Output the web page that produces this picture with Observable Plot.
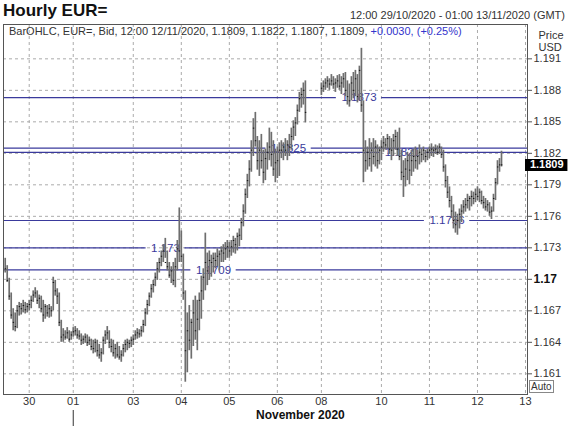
<!DOCTYPE html>
<html>
<head>
<meta charset="utf-8">
<script src="https://cdn.jsdelivr.net/npm/d3@7"></script>
<script src="https://cdn.jsdelivr.net/npm/@observablehq/plot@0.6"></script>
<style>
  body { margin: 0; background: #fff; }
  #wrap { position: relative; width: 568px; height: 426px; font-family: Arial, "Liberation Sans", sans-serif; color: #333; overflow: hidden; }
  #title { position: absolute; left: 3px; top: 1px; font-size: 17px; font-weight: bold; color: #111; }
  #range { position: absolute; right: 3px; top: 9px; font-size: 11px; color: #333; }
  #chart { position: absolute; left: 0; top: 24px; }
  #legend { position: absolute; left: 9px; top: 25px; font-size: 11px; color: #333; white-space: nowrap; }
  #legend .chg { color: #3333cc; }
  #auto { position: absolute; left: 529px; top: 380px; font-size: 10px; line-height: 11px; border: 1px solid #888; padding: 0 1px; color: #333; }
</style>
</head>
<body>
<div id="wrap">
  <div id="title">Hourly EUR=</div>
  <div id="range">12:00 29/10/2020 - 01:00 13/11/2020 (GMT)</div>
  <div id="chart"></div>
  <div id="legend">BarOHLC, EUR=, Bid, 12:00 12/11/2020, 1.1809, 1.1822, 1.1807, 1.1809, <span class="chg">+0.0030, (+0.25%)</span></div>
  <div id="auto">Auto</div>
</div>
<script>
// Hourly bars, index 0 = 12:00 29/10/2020 (trading hours, weekends compressed)
const high = [
  1.1720,1.1713,1.1701,1.1687,1.1672,1.1668,1.1675,1.1678,1.1677,1.1680,1.1678,1.1677,
  1.1680,1.1684,1.1689,1.1692,1.1689,1.1685,1.1684,1.1680,1.1676,1.1675,1.1676,1.1674,1.1702,1.1699,1.1691,1.1687,1.1661,1.1653,1.1651,1.1654,1.1651,1.1650,
  1.1654,1.1655,1.1653,1.1651,1.1648,1.1646,1.1648,1.1647,1.1645,1.1643,1.1642,1.1643,1.1642,1.1638,1.1634,1.1645,1.1651,1.1655,1.1651,1.1643,1.1642,1.1638,1.1640,1.1636,1.1632,1.1638,1.1642,1.1643,1.1642,1.1645,
  1.1647,1.1651,1.1653,1.1652,1.1655,1.1661,1.1672,1.1680,1.1687,1.1695,1.1699,1.1706,1.1716,1.1720,1.1727,1.1733,1.1739,1.1727,1.1716,1.1712,1.1716,1.1720,1.1737,1.1768,
  1.1746,1.1724,1.1689,1.1668,1.1675,1.1662,1.1680,1.1684,1.1680,1.1687,1.1703,1.1710,1.1744,1.1725,1.1727,1.1723,1.1725,1.1725,1.1729,1.1727,1.1731,1.1733,1.1735,1.1737,
  1.1735,1.1737,1.1741,1.1739,1.1744,1.1748,1.1758,1.1771,1.1786,1.1800,1.1813,1.1832,1.1853,1.1859,1.1836,1.1832,1.1838,1.1823,1.1824,1.1830,1.1844,1.1840,1.1832,1.1824,
  1.1826,1.1830,1.1832,1.1830,1.1834,1.1832,1.1838,1.1844,1.1851,1.1854,1.1866,1.1878,1.1882,1.1887,1.1889,null,null,null,null,null,null,null,
  1.1887,1.1889,1.1891,1.1893,1.1891,1.1895,1.1893,1.1891,1.1894,1.1895,1.1893,1.1896,1.1897,1.1889,1.1886,1.1893,1.1897,1.1899,1.1895,1.1903,1.1920,1.1870,1.1832,1.1826,1.1834,1.1830,1.1834,1.1832,1.1828,1.1826,
  1.1832,1.1836,1.1834,1.1838,1.1836,1.1834,1.1838,1.1842,1.1840,1.1844,1.1823,1.1813,1.1815,1.1821,1.1819,1.1823,1.1824,1.1826,1.1823,1.1828,1.1824,1.1826,1.1823,1.1824,
  1.1826,1.1829,1.1826,1.1828,1.1827,1.1829,1.1826,1.1823,1.1809,1.1798,1.1788,1.1779,1.1771,1.1764,1.1762,1.1767,1.1771,1.1775,1.1777,1.1781,1.1779,1.1784,1.1783,1.1786,
  1.1788,1.1786,1.1784,1.1779,1.1777,1.1775,1.1773,1.1769,1.1781,1.1796,1.1813,1.1815,1.1822
];
const low = [
  1.1706,1.1697,1.1680,1.1662,1.1651,1.1650,1.1653,1.1665,1.1666,1.1668,1.1667,1.1668,
  1.1670,1.1672,1.1678,1.1682,1.1676,1.1672,1.1668,1.1659,1.1662,1.1664,1.1663,1.1664,1.1670,1.1684,1.1676,1.1655,1.1640,1.1640,1.1642,1.1643,1.1640,1.1642,
  1.1645,1.1646,1.1643,1.1642,1.1637,1.1638,1.1639,1.1636,1.1637,1.1632,1.1629,1.1630,1.1626,1.1624,1.1621,1.1628,1.1638,1.1642,1.1634,1.1630,1.1626,1.1624,1.1625,1.1623,1.1621,1.1626,1.1630,1.1632,1.1634,1.1635,
  1.1637,1.1642,1.1643,1.1644,1.1645,1.1649,1.1655,1.1666,1.1674,1.1682,1.1687,1.1693,1.1699,1.1706,1.1712,1.1716,1.1720,1.1708,1.1701,1.1696,1.1694,1.1692,1.1708,1.1716,
  1.1716,1.1680,1.1602,1.1611,1.1632,1.1624,1.1636,1.1642,1.1632,1.1651,1.1662,1.1680,1.1689,1.1694,1.1699,1.1702,1.1706,1.1710,1.1712,1.1708,1.1716,1.1716,1.1718,1.1720,
  1.1720,1.1722,1.1725,1.1724,1.1727,1.1731,1.1737,1.1750,1.1762,1.1777,1.1788,1.1802,1.1817,1.1826,1.1804,1.1798,1.1805,1.1791,1.1794,1.1804,1.1813,1.1807,1.1798,1.1792,
  1.1796,1.1798,1.1815,1.1813,1.1817,1.1813,1.1817,1.1823,1.1832,1.1836,1.1847,1.1859,1.1863,1.1866,1.1849,null,null,null,null,null,null,null,
  1.1875,1.1878,1.1880,1.1882,1.1880,1.1884,1.1881,1.1878,1.1882,1.1880,1.1876,1.1882,1.1874,1.1866,1.1864,1.1870,1.1872,1.1874,1.1868,1.1870,1.1859,1.1792,1.1802,1.1804,1.1807,1.1802,1.1809,1.1807,1.1805,1.1809,
  1.1813,1.1821,1.1823,1.1824,1.1819,1.1813,1.1817,1.1823,1.1817,1.1813,1.1794,1.1778,1.1788,1.1794,1.1790,1.1798,1.1802,1.1805,1.1804,1.1809,1.1811,1.1813,1.1811,1.1813,
  1.1815,1.1817,1.1816,1.1819,1.1818,1.1819,1.1815,1.1802,1.1787,1.1777,1.1768,1.1758,1.1748,1.1744,1.1742,1.1748,1.1754,1.1762,1.1764,1.1767,1.1765,1.1769,1.1771,1.1773,
  1.1775,1.1773,1.1771,1.1767,1.1765,1.1764,1.1760,1.1757,1.1764,1.1775,1.1790,1.1802,1.1807
];
const close = [
  1.1710,1.1699,1.1684,1.1666,1.1659,1.1655,1.1670,1.1674,1.1672,1.1675,1.1671,1.1674,
  1.1676,1.1680,1.1685,1.1687,1.1680,1.1682,1.1672,1.1666,1.1674,1.1668,1.1672,1.1670,1.1697,1.1689,1.1684,1.1659,1.1645,1.1647,1.1645,1.1649,1.1643,1.1647,
  1.1650,1.1651,1.1647,1.1646,1.1642,1.1643,1.1645,1.1640,1.1642,1.1636,1.1634,1.1640,1.1632,1.1628,1.1630,1.1642,1.1647,1.1649,1.1640,1.1636,1.1630,1.1634,1.1628,1.1626,1.1628,1.1634,1.1638,1.1640,1.1639,1.1642,
  1.1643,1.1647,1.1649,1.1648,1.1651,1.1657,1.1668,1.1676,1.1684,1.1691,1.1695,1.1702,1.1710,1.1716,1.1722,1.1727,1.1716,1.1712,1.1704,1.1708,1.1699,1.1712,1.1729,1.1727,
  1.1722,1.1687,1.1632,1.1651,1.1642,1.1659,1.1668,1.1651,1.1662,1.1680,1.1689,1.1702,1.1716,1.1708,1.1718,1.1716,1.1720,1.1718,1.1722,1.1724,1.1727,1.1725,1.1729,1.1731,
  1.1727,1.1731,1.1737,1.1733,1.1741,1.1742,1.1754,1.1765,1.1781,1.1794,1.1805,1.1823,1.1844,1.1832,1.1813,1.1823,1.1813,1.1802,1.1815,1.1821,1.1826,1.1819,1.1805,1.1811,
  1.1813,1.1823,1.1823,1.1826,1.1823,1.1828,1.1826,1.1836,1.1845,1.1849,1.1861,1.1872,1.1876,1.1880,1.1859,null,null,null,null,null,null,null,
  1.1882,1.1884,1.1887,1.1889,1.1886,1.1889,1.1886,1.1887,1.1889,1.1884,1.1887,1.1891,1.1880,1.1874,1.1870,1.1887,1.1880,1.1891,1.1874,1.1899,1.1866,1.1823,1.1813,1.1821,1.1815,1.1823,1.1817,1.1826,1.1813,1.1823,
  1.1826,1.1830,1.1828,1.1834,1.1824,1.1823,1.1832,1.1836,1.1824,1.1817,1.1802,1.1798,1.1805,1.1813,1.1804,1.1813,1.1817,1.1813,1.1817,1.1821,1.1819,1.1823,1.1817,1.1821,
  1.1823,1.1824,1.1823,1.1824,1.1821,1.1826,1.1819,1.1807,1.1794,1.1783,1.1775,1.1765,1.1756,1.1752,1.1756,1.1762,1.1765,1.1769,1.1771,1.1775,1.1777,1.1779,1.1777,1.1781,
  1.1779,1.1783,1.1775,1.1773,1.1769,1.1771,1.1764,1.1765,1.1777,1.1792,1.1807,1.1809,1.1809
];

// x axis (bar index of each day start) and labels
const dayIndex = [12, 34, 64, 88, 112, 136, 158, 188, 212, 236, 260];
const dayLabels = ["30", "01", "03", "04", "05", "06", "08", "10", "11", "12", "13"];
const monthStart = 34;
const monthLabel = "November 2020";

// y axis ticks
const yTicks = [1.161, 1.164, 1.167, 1.173, 1.176, 1.179, 1.182, 1.185, 1.188, 1.191];
const yBoldTick = 1.17;

// horizontal level lines and where their labels sit (bar index)
const levelValues = [1.1873, 1.1825, 1.1821, 1.1756, 1.173, 1.1709];
const levelLabels = ["1.1873", "1.1825", "1.1821", "1.1756", "1.173", "1.1709"];
const levelLabelAt = [176.8, 141.6, 198.5, 220.8, 80.1, 104.1];

const lastPrice = 1.1809;

const xDomain = [-0.85, 261];
const yDomain = [1.15903, 1.19427];

const bars = high.map((h, i) => ({i, high: h, low: low[i], close: close[i]})).filter(d => d.high != null);

const levels = levelValues.map((v, k) => ({v, label: levelLabels[k], at: levelLabelAt[k], half: levelLabels[k].length * 1.62 + 1.6}));
const levelSegs = levels.flatMap(d => [
  {v: d.v, x1: xDomain[0], x2: d.at - d.half},
  {v: d.v, x1: d.at + d.half, x2: xDomain[1]}
]);
const days = dayIndex.map((i, k) => ({i, label: dayLabels[k]}));
const pxPerY = (yDomain[1] - yDomain[0]) / 370;

const blue = "#3a3a9c";
const grid = "#ababab";

const chart = Plot.plot({
  width: 568,
  height: 402,
  marginTop: 0,
  marginBottom: 32,
  marginLeft: 3,
  marginRight: 41,
  x: {domain: xDomain, axis: null},
  y: {domain: yDomain, axis: null},
  style: {fontFamily: "Arial, 'Liberation Sans', sans-serif", fontSize: "11px", color: "#333", background: "transparent", overflow: "visible"},
  marks: [
    Plot.ruleY(yTicks.concat([yBoldTick]), {stroke: grid, strokeDasharray: "3,3"}),
    Plot.ruleX(dayIndex, {stroke: grid, strokeDasharray: "3,3"}),
    Plot.ruleY(levelSegs, {y: "v", x1: "x1", x2: "x2", stroke: blue, strokeWidth: 1.2}),
    Plot.text(levels, {x: "at", y: "v", text: "label", fill: blue, fontSize: 11.5}),
    Plot.ruleX(bars, {x: "i", y1: "low", y2: "high", stroke: "#6e6e6e", strokeWidth: 1.7}),
    Plot.ruleY(bars, {y: "close", x1: "i", x2: d => d.i + 0.7, stroke: "#111", strokeWidth: 1}),
    Plot.frame({stroke: "#555"}),
    Plot.axisY(yTicks, {anchor: "right", tickSize: 4, tickPadding: 2, tickFormat: d => d.toFixed(3), fontSize: 11, stroke: "#555", fill: "#333"}),
    Plot.axisY([yBoldTick], {anchor: "right", tickSize: 4, tickPadding: 2, tickFormat: d => String(d), fontSize: 12, fontWeight: "bold", stroke: "#555", fill: "#111"}),
    Plot.ruleY([lastPrice], {y: d => d, x1: xDomain[1] - 1, x2: xDomain[1] + 20.2, stroke: "#000", strokeWidth: 12}),
    Plot.text([lastPrice], {y: d => d, x: xDomain[1] + 9.6, text: d => d.toFixed(4), fill: "#fff", fontWeight: "bold", fontSize: 11}),
    Plot.text(["Price"], {text: d => d, frameAnchor: "top-right", dx: 11, dy: 7, textAnchor: "start", fontSize: 11, fill: "#333"}),
    Plot.text(["USD"], {text: d => d, frameAnchor: "top-right", dx: 11, dy: 19, textAnchor: "start", fontSize: 11, fill: "#333"}),
    Plot.text(days, {x: "i", text: "label", frameAnchor: "bottom", dy: 10, fontSize: 11, fill: "#333"}),
    Plot.text([monthLabel], {x: (monthStart + xDomain[1]) / 2, text: d => d, frameAnchor: "bottom", dy: 24, fontSize: 12, fontWeight: "bold", fill: "#111"}),
    Plot.ruleX([monthStart], {y1: yDomain[0] - 16 * pxPerY, y2: yDomain[0] - 32 * pxPerY, stroke: "#333"})
  ]
});
document.getElementById("chart").appendChild(chart);
</script>
</body>
</html>
